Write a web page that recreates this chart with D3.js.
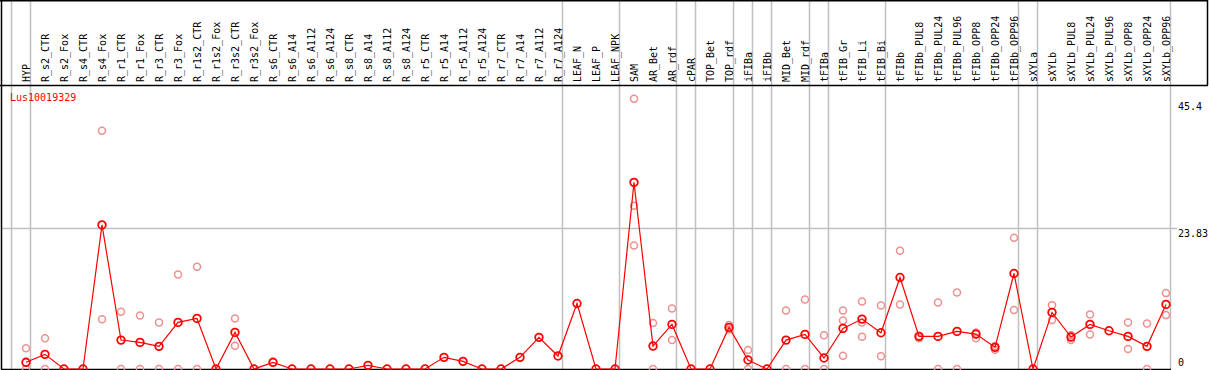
<!doctype html>
<html lang="en">
<head>
<meta charset="utf-8">
<title>Lus10019329</title>
<style type="text/css">
html, body { margin: 0; padding: 0; background: #fff; overflow: hidden; }
svg text { font-family: "DejaVu Sans Mono", monospace; }
.lbl { font-size: 10px; fill: #000; }
.tick { font-size: 10px; fill: #000; }
.title { font-size: 10px; fill: red; }
.grid { stroke: #c0c0c0; stroke-width: 1.5px; }
.frame { stroke: #000; stroke-width: 1.5px; }
</style>
<script src="https://cdn.jsdelivr.net/npm/d3@7/dist/d3.min.js"></script>
</head>
<body>
<div id="chart"></div>
<script type="text/javascript">
// sample names, left to right
const samples = ["HYP", "R_s2_CTR", "R_s2_Fox", "R_s4_CTR", "R_s4_Fox", "R_r1_CTR", "R_r1_Fox",
  "R_r3_CTR", "R_r3_Fox", "R_r1s2_CTR", "R_r1s2_Fox", "R_r3s2_CTR", "R_r3s2_Fox", "R_s6_CTR",
  "R_s6_A14", "R_s6_A112", "R_s6_A124", "R_s8_CTR", "R_s8_A14", "R_s8_A112", "R_s8_A124",
  "R_r5_CTR", "R_r5_A14", "R_r5_A112", "R_r5_A124", "R_r7_CTR", "R_r7_A14", "R_r7_A112",
  "R_r7_A124", "LEAF_N", "LEAF_P", "LEAF_NPK", "SAM", "AR_Bet", "AR_rdf", "cPAR", "TOP_Bet",
  "TOP_rdf", "iFIBa", "iFIBb", "MID_Bet", "MID_rdf", "tFIBa", "tFIB_Gr", "tFIB_Li", "tFIB_Bi",
  "tFIBb", "tFIBb_PUL8", "tFIBb_PUL24", "tFIBb_PUL96", "tFIBb_OPP8", "tFIBb_OPP24", "tFIBb_OPP96",
  "sXYLa", "sXYLb", "sXYLb_PUL8", "sXYLb_PUL24", "sXYLb_PUL96", "sXYLb_OPP8", "sXYLb_OPP24",
  "sXYLb_OPP96"];

// mean expression per sample
const means = [1.13, 2.48, 0, 0, 24.36, 4.89, 4.5, 3.83, 7.88, 8.55, 0, 6.19, 0, 1.13,
  0, 0, 0, 0, 0.62, 0, 0, 0, 1.97, 1.29, 0, 0, 1.97, 5.35, 2.19, 11.08, 0, 0,
  31.56, 3.88, 7.54, 0, 0, 7.03, 1.52, 0, 4.89, 5.85, 1.86, 6.86, 8.44, 6.13,
  15.47, 5.51, 5.51, 6.36, 5.9, 3.66, 16.15, 0, 9.57, 5.4, 7.54, 6.47, 5.51, 3.83, 10.92];

// replicate values per sample (faint circles)
const replicates = [[3.5, 0], [5.2, 0], [], [], [40.3, 8.4], [9.7, 0], [9.06, 0], [7.88, 0],
  [15.98, 0], [17.3, 0], [], [8.55, 3.93], [], [], [], [], [], [], [], [], [], [], [], [], [],
  [], [], [], [], [], [], [], [45.7, 27.6, 20.9], [7.76, 0], [10.24, 4.89], [], [],
  [7.43, 6.7], [3.2, 0], [], [9.9, 0], [11.76, 0], [5.69, 0], [9.9, 8.2, 2.25],
  [11.42, 7.88, 5.46], [10.75, 2.14], [20.0, 10.9], [5.6, 5.2], [11.25, 0], [12.94, 0],
  [6.19, 5.18], [3.88, 3.26], [22.2, 9.96], [], [10.8, 8.27], [5.69, 4.89], [9.23, 5.85],
  [], [7.88, 3.38], [7.71, 0], [12.83, 9.11]];

// group separators: a grey line after these sample indices
const groupEnds = [-1, 0, 28, 31, 34, 35, 37, 38, 39, 41, 42, 45, 52, 53, 60];

// y axis labels
const yTicks = [0, 23.83, 45.4];
const gridValues = [23.83];

const W = 1209, H = 370;
const headerBottom = 85.5, plotBottom = 369.5;

const svg = d3.select("#chart").append("svg")
  .attr("width", W).attr("height", H);

const x = d3.scaleLinear().domain([0, samples.length - 1]).range([26, 1166]);
const y = d3.scaleLinear().domain([0, 45.4]).range([369, 100.5]);

// vertical grey group lines (through the header too)
svg.selectAll(".vgrid").data(groupEnds).enter().append("line")
  .attr("class", "grid")
  .attr("x1", d => Math.round(x(d) + 4) + 0.5).attr("x2", d => Math.round(x(d) + 4) + 0.5)
  .attr("y1", 0).attr("y2", plotBottom);

// horizontal grid
svg.selectAll(".hgrid").data(gridValues).enter().append("line")
  .attr("class", "grid")
  .attr("x1", 1).attr("x2", 1177)
  .attr("y1", d => Math.round(y(d)) + 0.5).attr("y2", d => Math.round(y(d)) + 0.5);

// frame
const frame = [
  [0, 0.75, 1208, 0.75],
  [0, headerBottom, 1208, headerBottom],
  [1.5, 0, 1.5, plotBottom],
  [1207.5, 0, 1207.5, headerBottom],
  [1, plotBottom, 1171, plotBottom]
];
svg.selectAll(".frame").data(frame).enter().append("line")
  .attr("class", "frame")
  .attr("x1", d => d[0]).attr("y1", d => d[1]).attr("x2", d => d[2]).attr("y2", d => d[3]);

// sample labels, rotated
svg.selectAll(".lbl").data(samples).enter().append("text")
  .attr("class", "lbl")
  .attr("transform", (d, i) => "translate(" + (x(i) + 0.5) + ",82) rotate(-90)")
  .attr("dy", "0.35em")
  .text(d => d);

// title
svg.append("text").attr("class", "title").attr("x", 10).attr("y", 101).text("Lus10019329");

// y labels on the right
svg.selectAll(".tick").data(yTicks).enter().append("text")
  .attr("class", "tick")
  .attr("x", 1178)
  .attr("y", d => d === 0 ? y(d) - 3 : y(d) + 9)
  .text(d => d);

// replicate circles
const reps = [];
replicates.forEach((r, i) => r.forEach(v => reps.push({ i: i, v: v })));
svg.selectAll(".rep").data(reps).enter().append("circle")
  .attr("cx", d => x(d.i)).attr("cy", d => y(d.v)).attr("r", 3.5)
  .attr("fill", "none").attr("stroke", "#ee9090").attr("stroke-width", 1.5);

// mean line
const line = d3.line().x((d, i) => x(i)).y(d => y(d));
svg.append("path").datum(means)
  .attr("d", line)
  .attr("fill", "none").attr("stroke", "red").attr("stroke-width", 1.2);

svg.selectAll(".mean").data(means).enter().append("circle")
  .attr("cx", (d, i) => x(i)).attr("cy", d => y(d)).attr("r", 3.8)
  .attr("fill", "none").attr("stroke", "red").attr("stroke-width", 1.8);
</script>
</body>
</html>
